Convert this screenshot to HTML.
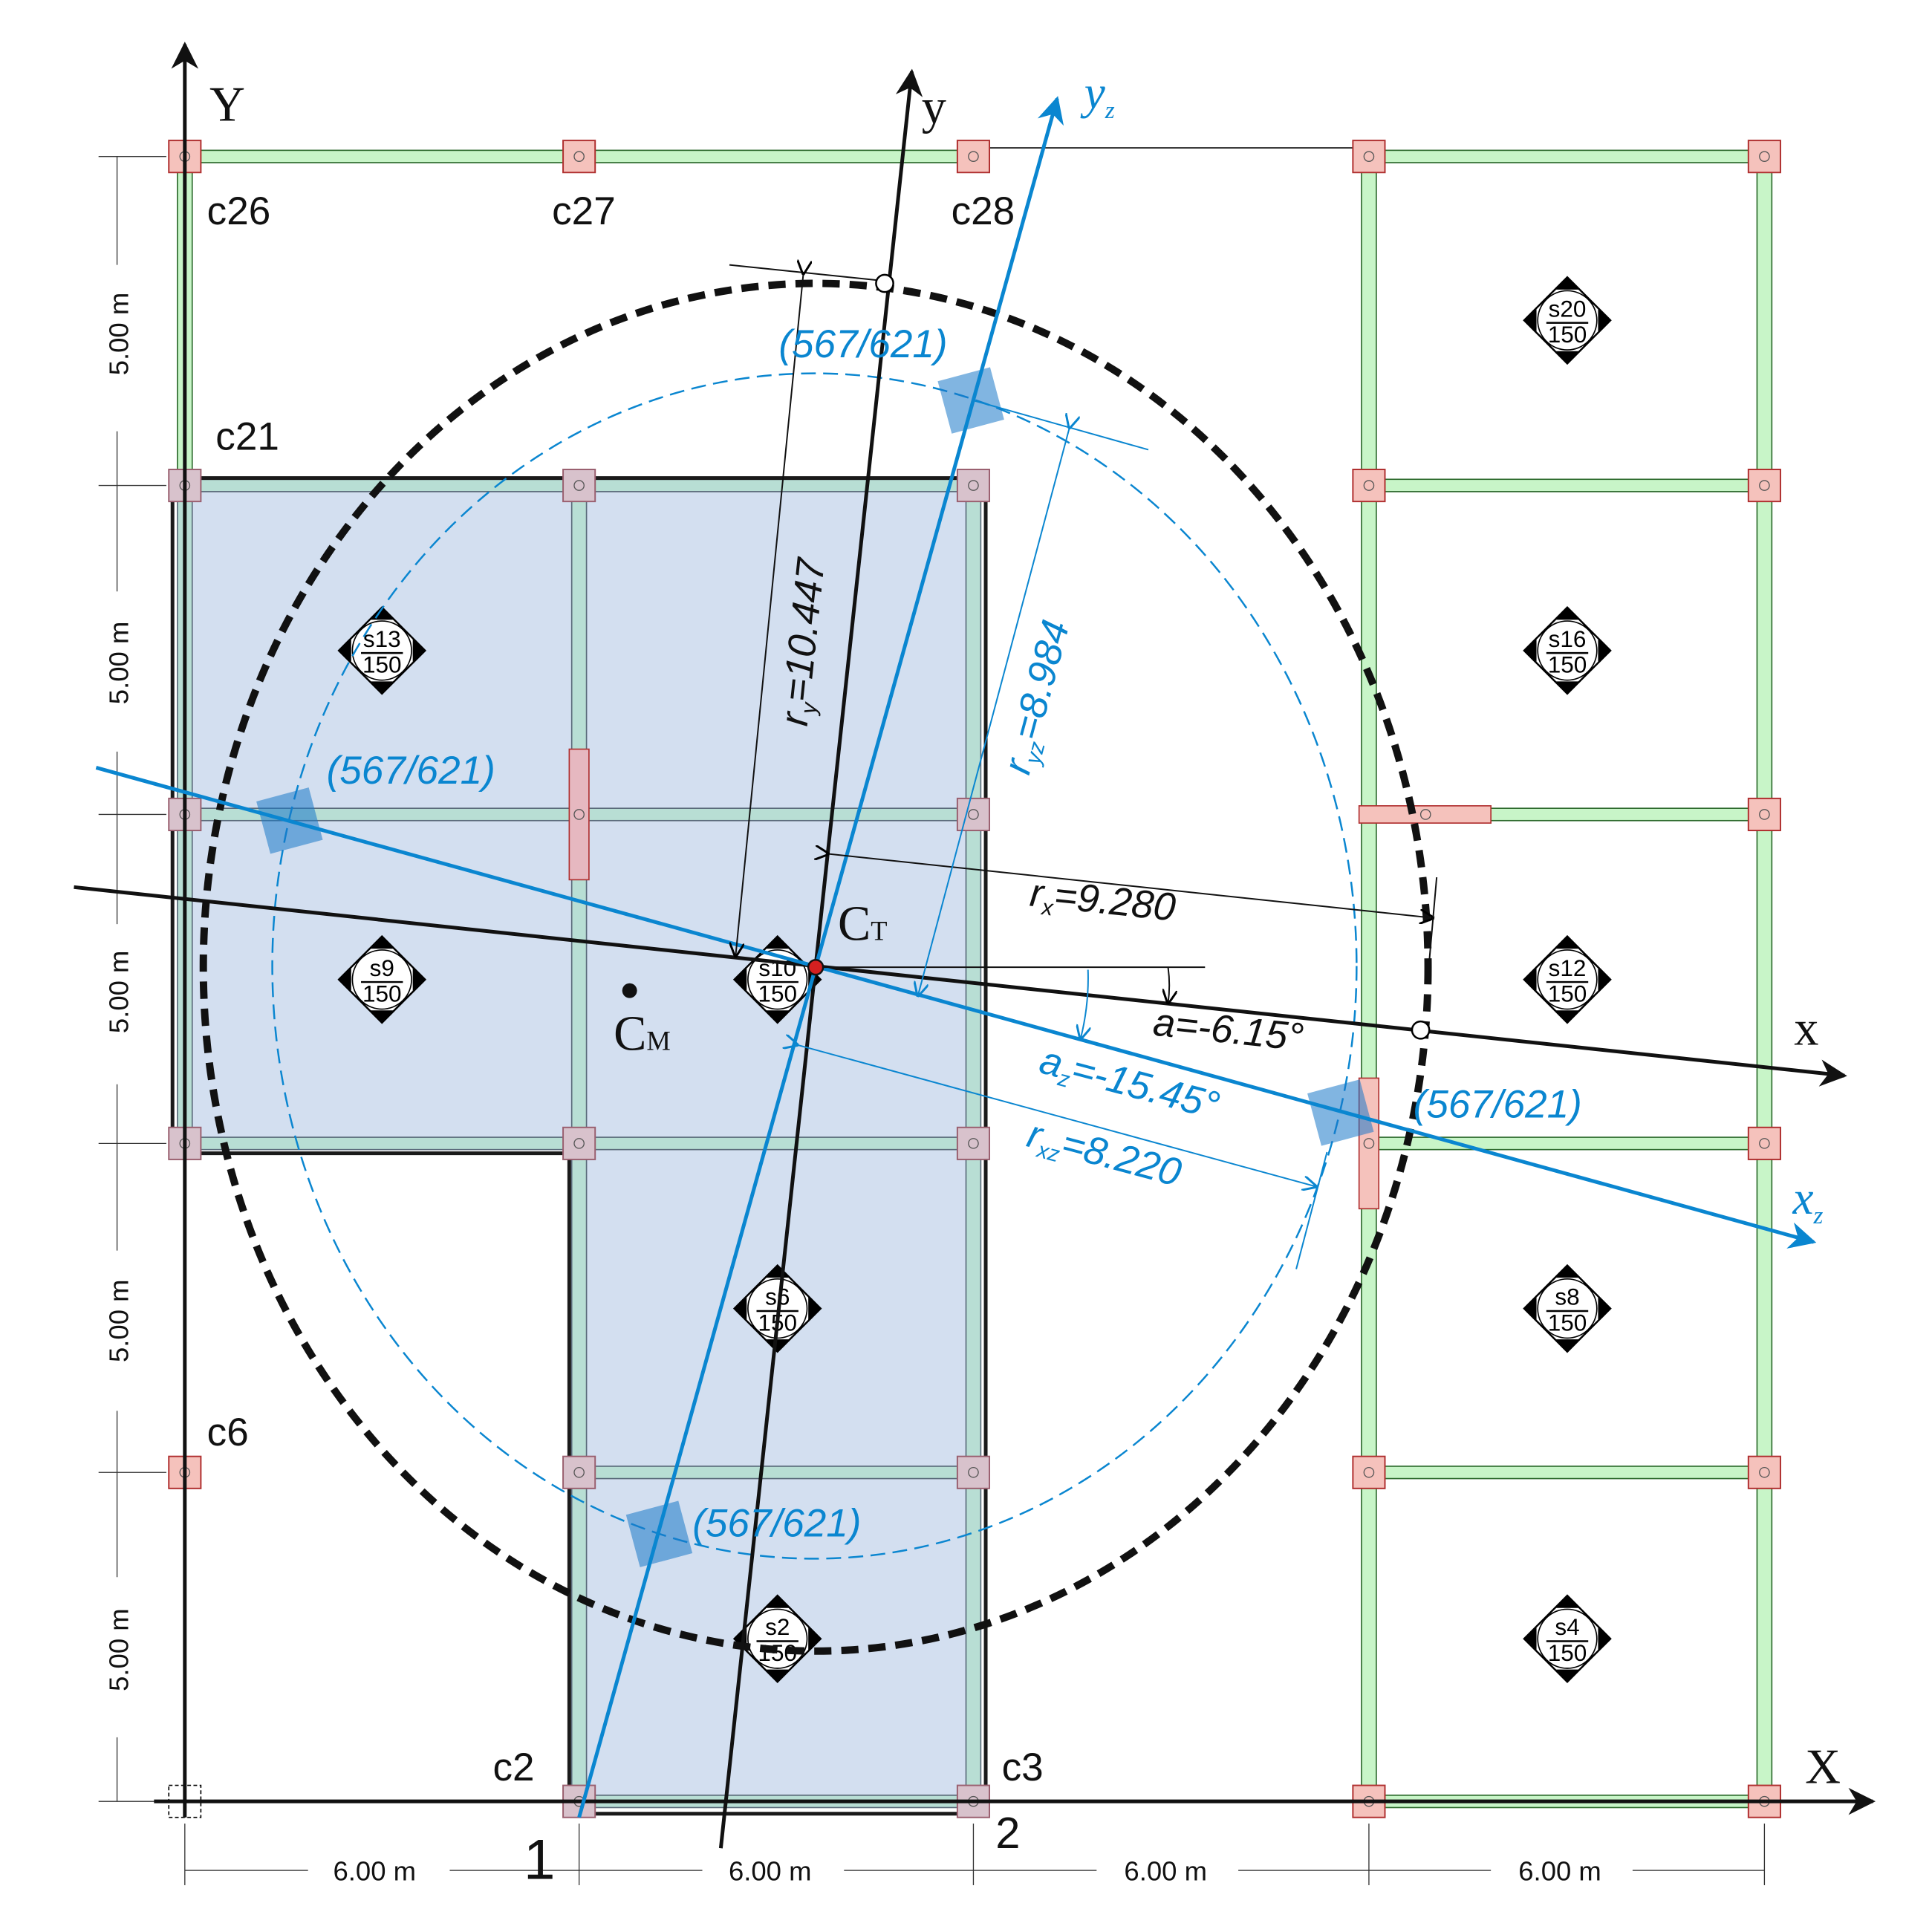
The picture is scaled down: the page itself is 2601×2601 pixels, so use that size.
<!DOCTYPE html>
<html><head><meta charset="utf-8"><style>html,body{margin:0;padding:0;background:#fff}svg{display:block}</style></head><body>
<svg width="2601" height="2601" viewBox="0 0 1568 1568" xmlns="http://www.w3.org/2000/svg" font-family="Liberation Sans, sans-serif">
<defs>
<marker id="ab" viewBox="0 0 10 10" refX="9" refY="5" markerWidth="12" markerHeight="12" markerUnits="userSpaceOnUse" orient="auto"><path d="M0,0 L10,5 L0,10" fill="none" stroke="#000" stroke-width="1.5"/></marker>
<marker id="abl" viewBox="0 0 10 10" refX="9" refY="5" markerWidth="12" markerHeight="12" markerUnits="userSpaceOnUse" orient="auto"><path d="M0,0 L10,5 L0,10" fill="none" stroke="#0a86d0" stroke-width="1.5"/></marker>
<marker id="big" viewBox="0 0 10 10" refX="9" refY="5" markerWidth="24" markerHeight="22" markerUnits="userSpaceOnUse" orient="auto"><path d="M0,0 L10,5 L0,10 L3,5Z" fill="#111"/></marker>
<marker id="bigb" viewBox="0 0 10 10" refX="9" refY="5" markerWidth="24" markerHeight="22" markerUnits="userSpaceOnUse" orient="auto"><path d="M0,0 L10,5 L0,10 L3,5Z" fill="#0a86d0"/></marker>
<g id="dm">
<polygon points="0,-35 35,0 0,35 -35,0" fill="#fff" stroke="#000" stroke-width="1.5"/>
<polygon points="0,-35 10,-25 -10,-25" fill="#000"/><polygon points="0,35 10,25 -10,25" fill="#000"/>
<polygon points="-35,0 -25,10 -25,-10" fill="#000"/><polygon points="35,0 25,10 25,-10" fill="#000"/>
<circle r="24" fill="#fff" stroke="#000" stroke-width="1"/><line x1="-17" y1="2" x2="17" y2="2" stroke="#000" stroke-width="1.5"/>
</g>
</defs>
<rect width="1568" height="1568" fill="#fff"/>
<!-- slab -->
<polygon points="150,394 790,394 790,1462 470,1462 470,928 150,928" fill="#d3dff0"/>
<!-- green beams right/top -->
<g fill="#c8f5c8" stroke="#2d6a2d" stroke-width="1">
<rect x="150" y="122" width="640" height="10"/>
<rect x="1111" y="122" width="321" height="10"/>
<rect x="1111" y="389" width="321" height="10"/>
<rect x="1111" y="656" width="321" height="10"/>
<rect x="1111" y="923" width="321" height="10"/>
<rect x="1111" y="1190" width="321" height="10"/>
<rect x="1111" y="1457" width="321" height="10"/>
<rect x="1105" y="127" width="12" height="1335"/>
<rect x="1426" y="127" width="12" height="1335"/>
<rect x="144" y="127" width="12" height="267"/>
</g>
<line x1="790" y1="120" x2="1111" y2="120" stroke="#000" stroke-width="1"/>
<!-- slab beams teal -->
<g fill="#b8ded4" stroke="#5a6a7a" stroke-width="1">
<rect x="150" y="389" width="640" height="10"/>
<rect x="150" y="656" width="640" height="10"/>
<rect x="150" y="923" width="640" height="10"/>
<rect x="470" y="1190" width="320" height="10"/>
<rect x="470" y="1457" width="320" height="10"/>
<rect x="144" y="394" width="12" height="534"/>
<rect x="464" y="394" width="12" height="1068"/>
<rect x="784" y="394" width="12" height="1068"/>
</g>
<polyline points="140,928 140,388 800,388 800,1472 462,1472 462,936 140,936" fill="none" stroke="#1a1a1a" stroke-width="3"/>
<!-- dims -->
<g stroke="#333" stroke-width="0.8" fill="none">
<line x1="95" y1="127" x2="95" y2="215"/><line x1="95" y1="350" x2="95" y2="480"/><line x1="95" y1="610" x2="95" y2="750"/><line x1="95" y1="880" x2="95" y2="1015"/><line x1="95" y1="1145" x2="95" y2="1280"/><line x1="95" y1="1410" x2="95" y2="1462"/>
<line x1="150" y1="1518" x2="250" y2="1518"/><line x1="365" y1="1518" x2="570" y2="1518"/><line x1="685" y1="1518" x2="890" y2="1518"/><line x1="1005" y1="1518" x2="1210" y2="1518"/><line x1="1325" y1="1518" x2="1432" y2="1518"/>
<line x1="80" y1="127" x2="135" y2="127"/><line x1="80" y1="394" x2="135" y2="394"/><line x1="80" y1="661" x2="135" y2="661"/><line x1="80" y1="928" x2="135" y2="928"/><line x1="80" y1="1195" x2="135" y2="1195"/><line x1="80" y1="1462" x2="135" y2="1462"/>
<line x1="150" y1="1480" x2="150" y2="1530"/><line x1="470" y1="1480" x2="470" y2="1530"/><line x1="790" y1="1480" x2="790" y2="1530"/><line x1="1111" y1="1480" x2="1111" y2="1530"/><line x1="1432" y1="1480" x2="1432" y2="1530"/>
</g>
<g font-size="22" fill="#111">
<text transform="translate(104,271) rotate(-90)" text-anchor="middle">5.00 m</text>
<text transform="translate(104,538) rotate(-90)" text-anchor="middle">5.00 m</text>
<text transform="translate(104,805) rotate(-90)" text-anchor="middle">5.00 m</text>
<text transform="translate(104,1072) rotate(-90)" text-anchor="middle">5.00 m</text>
<text transform="translate(104,1339) rotate(-90)" text-anchor="middle">5.00 m</text>
<text x="304" y="1526" text-anchor="middle">6.00 m</text><text x="625" y="1526" text-anchor="middle">6.00 m</text><text x="946" y="1526" text-anchor="middle">6.00 m</text><text x="1266" y="1526" text-anchor="middle">6.00 m</text>
</g>
<!-- red elongated columns -->
<g fill="#f5c2bc" stroke="#b03030" stroke-width="1">
<rect x="462" y="608" width="16" height="106" fill="#e6b8c0"/>
<rect x="1103" y="654" width="107" height="14"/>
<rect x="1103" y="875" width="16" height="106"/>
</g>
<!-- columns -->
<g stroke-width="1.2">
<g fill="#f5c2bc" stroke="#b03030">
<rect x="137" y="114" width="26" height="26"/><rect x="457" y="114" width="26" height="26"/><rect x="777" y="114" width="26" height="26"/>
<rect x="1098" y="114" width="26" height="26"/><rect x="1419" y="114" width="26" height="26"/>
<rect x="1098" y="381" width="26" height="26"/><rect x="1419" y="381" width="26" height="26"/>
<rect x="1419" y="648" width="26" height="26"/><rect x="1419" y="915" width="26" height="26"/>
<rect x="1098" y="1182" width="26" height="26"/><rect x="1419" y="1182" width="26" height="26"/>
<rect x="1098" y="1449" width="26" height="26"/><rect x="1419" y="1449" width="26" height="26"/>
<rect x="137" y="1182" width="26" height="26"/>
</g>
<g fill="#d8c2cc" stroke="#9a6070">
<rect x="137" y="381" width="26" height="26"/><rect x="457" y="381" width="26" height="26"/><rect x="777" y="381" width="26" height="26"/>
<rect x="137" y="648" width="26" height="26"/><rect x="777" y="648" width="26" height="26"/>
<rect x="137" y="915" width="26" height="26"/><rect x="457" y="915" width="26" height="26"/><rect x="777" y="915" width="26" height="26"/>
<rect x="457" y="1182" width="26" height="26"/><rect x="777" y="1182" width="26" height="26"/>
<rect x="457" y="1449" width="26" height="26"/><rect x="777" y="1449" width="26" height="26"/>
</g>
</g>
<g fill="none" stroke="#555" stroke-width="0.8">
<circle cx="150" cy="127" r="4"/><circle cx="470" cy="127" r="4"/><circle cx="790" cy="127" r="4"/><circle cx="1111" cy="127" r="4"/><circle cx="1432" cy="127" r="4"/>
<circle cx="150" cy="394" r="4"/><circle cx="470" cy="394" r="4"/><circle cx="790" cy="394" r="4"/><circle cx="1111" cy="394" r="4"/><circle cx="1432" cy="394" r="4"/>
<circle cx="150" cy="661" r="4"/><circle cx="470" cy="661" r="4"/><circle cx="790" cy="661" r="4"/><circle cx="1157" cy="661" r="4"/><circle cx="1432" cy="661" r="4"/>
<circle cx="150" cy="928" r="4"/><circle cx="470" cy="928" r="4"/><circle cx="790" cy="928" r="4"/><circle cx="1111" cy="928" r="4"/><circle cx="1432" cy="928" r="4"/>
<circle cx="150" cy="1195" r="4"/><circle cx="470" cy="1195" r="4"/><circle cx="790" cy="1195" r="4"/><circle cx="1111" cy="1195" r="4"/><circle cx="1432" cy="1195" r="4"/>
<circle cx="470" cy="1462" r="4"/><circle cx="790" cy="1462" r="4"/><circle cx="1111" cy="1462" r="4"/><circle cx="1432" cy="1462" r="4"/>
</g>
<rect x="137" y="1449" width="26" height="26" fill="none" stroke="#000" stroke-dasharray="3,2"/>
<!-- diamonds -->
<g font-size="19" text-anchor="middle" fill="#000">
<g transform="translate(310,528)"><use href="#dm"/><text y="-3">s13</text><text y="18">150</text></g>
<g transform="translate(1272,260)"><use href="#dm"/><text y="-3">s20</text><text y="18">150</text></g>
<g transform="translate(1272,528)"><use href="#dm"/><text y="-3">s16</text><text y="18">150</text></g>
<g transform="translate(310,795)"><use href="#dm"/><text y="-3">s9</text><text y="18">150</text></g>
<g transform="translate(631,795)"><use href="#dm"/><text y="-3">s10</text><text y="18">150</text></g>
<g transform="translate(1272,795)"><use href="#dm"/><text y="-3">s12</text><text y="18">150</text></g>
<g transform="translate(631,1062)"><use href="#dm"/><text y="-3">s6</text><text y="18">150</text></g>
<g transform="translate(1272,1062)"><use href="#dm"/><text y="-3">s8</text><text y="18">150</text></g>
<g transform="translate(631,1330)"><use href="#dm"/><text y="-3">s2</text><text y="18">150</text></g>
<g transform="translate(1272,1330)"><use href="#dm"/><text y="-3">s4</text><text y="18">150</text></g>
</g>
<!-- ellipses -->
<ellipse cx="662" cy="785" rx="497" ry="555" fill="none" stroke="#111" stroke-width="6" stroke-dasharray="14,8"/>
<ellipse cx="661" cy="784" rx="440" ry="481" fill="none" stroke="#0a86d0" stroke-width="1.5" stroke-dasharray="12,6"/>
<!-- blue squares -->
<g fill="#1a78c8" fill-opacity="0.55">
<rect x="-22" y="-22" width="44" height="44" transform="translate(788,325) rotate(-15)"/>
<rect x="-22" y="-22" width="44" height="44" transform="translate(235,666) rotate(-15)"/>
<rect x="-22" y="-22" width="44" height="44" transform="translate(1088,903) rotate(-15)"/>
<rect x="-22" y="-22" width="44" height="44" transform="translate(535,1245) rotate(-15)"/>
</g>
<!-- main axes -->
<line x1="150" y1="1475" x2="150" y2="36" stroke="#111" stroke-width="3" marker-end="url(#big)"/>
<line x1="125" y1="1462" x2="1520" y2="1462" stroke="#111" stroke-width="3" marker-end="url(#big)"/>
<line x1="585" y1="1500" x2="740" y2="58" stroke="#111" stroke-width="3" marker-end="url(#big)"/>
<line x1="60" y1="720" x2="1497" y2="873" stroke="#111" stroke-width="3" marker-end="url(#big)"/>
<line x1="470" y1="1475" x2="858" y2="80" stroke="#0a86d0" stroke-width="3" marker-end="url(#bigb)"/>
<line x1="78" y1="623" x2="1472" y2="1008" stroke="#0a86d0" stroke-width="3" marker-end="url(#bigb)"/>
<!-- dimension lines -->
<g stroke="#111" stroke-width="1.2" fill="none">
<line x1="592" y1="215" x2="718" y2="228"/>
<line x1="652" y1="222" x2="597" y2="776" marker-start="url(#ab)" marker-end="url(#ab)"/>
<line x1="672" y1="693" x2="1163" y2="745" marker-start="url(#ab)" marker-end="url(#ab)"/>
<line x1="1166" y1="712" x2="1160" y2="780"/>
<line x1="662" y1="785" x2="978" y2="785"/>
<path d="M948,785 Q950,800 948,814" marker-end="url(#ab)"/>
</g>
<g stroke="#0a86d0" stroke-width="1.2" fill="none">
<line x1="790" y1="325" x2="932" y2="365"/>
<line x1="868" y1="347" x2="745" y2="808" marker-start="url(#abl)" marker-end="url(#abl)"/>
<line x1="647" y1="848" x2="1068" y2="963" marker-start="url(#abl)" marker-end="url(#abl)"/>
<line x1="1052" y1="1030" x2="1077" y2="935"/>
<path d="M883,787 Q884,815 877,843" marker-end="url(#abl)"/>
</g>
<circle cx="718" cy="230" r="7" fill="#fff" stroke="#000" stroke-width="1.5"/>
<circle cx="1153" cy="836" r="7" fill="#fff" stroke="#000" stroke-width="1.5"/>
<circle cx="662" cy="785" r="6" fill="#d42020" stroke="#111" stroke-width="1.5"/>
<circle cx="511" cy="804" r="6" fill="#111"/>
<!-- labels -->
<g font-family="Liberation Serif, serif" fill="#111">
<text x="170" y="98" font-size="40">Y</text>
<text x="1465" y="1447" font-size="40">X</text>
<text x="748" y="100" font-size="40">y</text>
<text x="1456" y="848" font-size="40">x</text>
<text x="680" y="763" font-size="40">C<tspan font-size="22">T</tspan></text>
<text x="498" y="852" font-size="40">C<tspan font-size="22">M</tspan></text>
</g>
<g font-family="Liberation Serif, serif" fill="#0a86d0" font-style="italic">
<text x="880" y="88" font-size="38">y<tspan font-size="20" dy="8">z</tspan></text>
<text x="1455" y="985" font-size="38">x<tspan font-size="20" dy="8">z</tspan></text>
</g>
<g font-size="32" fill="#111">
<text x="168" y="182">c26</text><text x="448" y="182">c27</text><text x="772" y="182">c28</text>
<text x="175" y="365">c21</text><text x="168" y="1173">c6</text>
<text x="400" y="1445">c2</text><text x="813" y="1445">c3</text>
<text x="425" y="1525" font-size="46">1</text><text x="808" y="1500" font-size="36">2</text>
</g>
<g font-size="32" font-style="italic" fill="#111">
<text transform="translate(655,590) rotate(-84)">r<tspan font-size="18" dy="6">y</tspan><tspan dy="-6">=10.447</tspan></text>
<text transform="translate(835,735) rotate(6)">r<tspan font-size="18" dy="6">x</tspan><tspan dy="-6">=9.280</tspan></text>
<text transform="translate(935,840) rotate(6)">a=-6.15°</text>
</g>
<g font-size="32" font-style="italic" fill="#0a86d0">
<text x="632" y="290">(567/621)</text>
<text x="265" y="636">(567/621)</text>
<text x="1147" y="907">(567/621)</text>
<text x="562" y="1247">(567/621)</text>
<text transform="translate(835,630) rotate(-75)">r<tspan font-size="18" dy="6">yz</tspan><tspan dy="-6">=8.984</tspan></text>
<text transform="translate(842,870) rotate(15)">a<tspan font-size="18" dy="6">z</tspan><tspan dy="-6">=-15.45°</tspan></text>
<text transform="translate(832,930) rotate(15)">r<tspan font-size="18" dy="6">xz</tspan><tspan dy="-6">=8.220</tspan></text>
</g>
</svg>
</body></html>
